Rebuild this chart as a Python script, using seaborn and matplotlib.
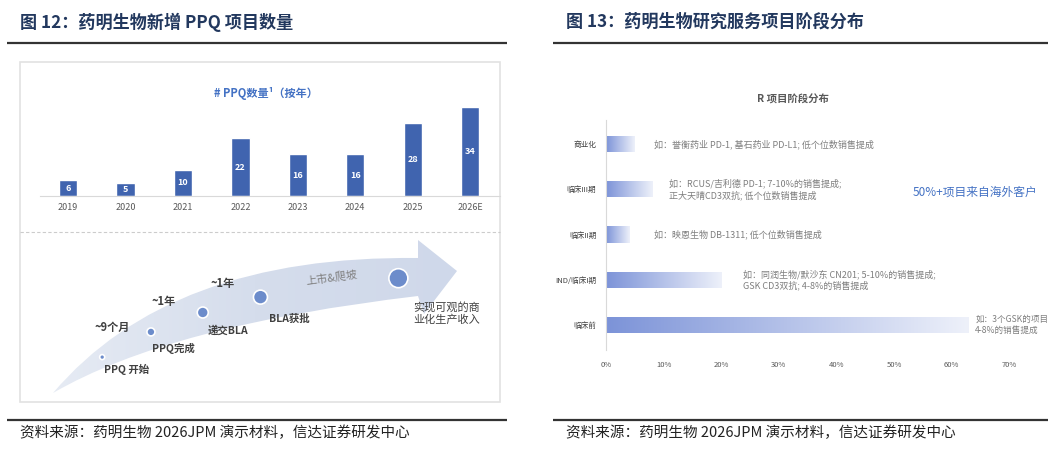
"""
Figuras 12 y 13: PPQ de WuXi Biologics y distribución por fases de proyectos R.
"""
import matplotlib
matplotlib.use("Agg")
import matplotlib.pyplot as plt
import matplotlib.patches as mpatches
from matplotlib.path import Path
from matplotlib.colors import LinearSegmentedColormap
import numpy as np
import seaborn as sns

# ---- datos ----
anios = ["2019", "2020", "2021", "2022", "2023", "2024", "2025", "2026E"]
ppq_nuevos = [6, 5, 10, 22, 16, 16, 28, 34]

hitos = ["PPQ 开始", "PPQ完成", "递交BLA", "BLA获批", "实现可观的商\n业化生产收入"]
duraciones = ["~9个月", "~1年", "~1年"]
etapa_final = "上市&爬坡"

fases = ["商业化", "临床III期", "临床II期", "IND/临床I期", "临床前"]
proporcion = [0.05, 0.08, 0.04, 0.20, 0.63]
ejemplos = [
    "如：誉衡药业 PD-1, 基石药业 PD-L1; 低个位数销售提成",
    "如：RCUS/吉利德 PD-1; 7-10%的销售提成;\n正大天晴CD3双抗; 低个位数销售提成",
    "如：映恩生物 DB-1311; 低个位数销售提成",
    "如：同润生物/默沙东 CN201; 5-10%的销售提成;\nGSK CD3双抗; 4-8%的销售提成",
    "如：3个GSK的项目\n4-8%的销售提成",
]
ticks_pct = [0, 0.1, 0.2, 0.3, 0.4, 0.5, 0.6, 0.7]

titulo_izq = "图 12：药明生物新增 PPQ 项目数量"
titulo_der = "图 13：药明生物研究服务项目阶段分布"
fuente = "资料来源：药明生物 2026JPM 演示材料，信达证券研发中心"

# ---- estilo ----
sns.set_style("white")
plt.rcParams['font.family'] = ['Noto Sans CJK SC', 'DejaVu Sans']

AZUL = "#4064AF"
AZUL_TXT = "#4472C4"
GRIS = "#595959"
NAVY = "#22385E"

W, H = 1055, 455
fig = plt.figure(figsize=(W / 100, H / 100), dpi=100)

# capa de fondo en coordenadas de pixel
base = fig.add_axes([0, 0, 1, 1], zorder=0)
base.set_xlim(0, W)
base.set_ylim(H, 0)
base.axis('off')


def ejes_px(x0, y0, x1, y1, **kw):
    return fig.add_axes([x0 / W, 1 - y1 / H, (x1 - x0) / W, (y1 - y0) / H], **kw)


def degradado(ax, parche, cmap, zorder=2):
    x0, y0 = parche.get_x(), parche.get_y()
    w, h = parche.get_width(), parche.get_height()
    grad = np.linspace(0, 1, 256).reshape(1, -1)
    img = ax.imshow(grad, extent=[x0, x0 + w, y0, y0 + h], aspect='auto',
                    cmap=cmap, zorder=zorder, interpolation='bicubic')
    img.set_clip_path(parche)
    parche.set_facecolor('none')
    parche.set_edgecolor('none')


# titulos y lineas
for x0, x1, txt in [(7, 507, titulo_izq), (553, 1048, titulo_der)]:
    base.text(x0 + 13, 22, txt, fontsize=12.3, fontweight='bold', color=NAVY, va='center')
    base.plot([x0, x1], [43, 43], color="#333333", lw=1.6, solid_capstyle='butt')
    base.plot([x0, x1], [420, 420], color="#333333", lw=1.6, solid_capstyle='butt')
    base.text(x0 + 13, 433, fuente, fontsize=10.5, style='italic', color="#222222", va='center')

# marco del panel izquierdo
base.add_patch(mpatches.Rectangle((20, 62), 480, 340, fill=False, edgecolor="#E2E2E2", lw=1.2))
base.plot([20, 500], [232, 232], color="#CCCCCC", lw=0.8, ls=(0, (3, 2)))

# ---- barras PPQ ----
ax1 = ejes_px(40, 100, 500, 196, zorder=1)
ax1.patch.set_alpha(0)
sns.barplot(x=anios, y=ppq_nuevos, color=AZUL, saturation=1, width=0.32, ax=ax1)
ax1.bar_label(ax1.containers[0], label_type='center', color='white', fontsize=6.5, fontweight='bold')
ax1.set_ylim(0, 36.7)
ax1.set_xlim(-0.49, 7.52)
sns.despine(ax=ax1, left=True)
ax1.spines['bottom'].set_color("#D9D9D9")
ax1.spines['bottom'].set_linewidth(0.8)
ax1.set_yticks([])
ax1.set_xlabel("")
ax1.tick_params(axis='x', length=0, labelsize=6.5, labelcolor=GRIS, pad=5)
base.text(266, 93, "# PPQ数量¹（按年）", fontsize=8, fontweight='bold', color=AZUL_TXT,
          ha='center', va='center')

# ---- flecha de hitos ----
cola = np.array([53, 393])
ctrl_sup, fin_sup = np.array([170, 255]), np.array([418, 258])
ctrl_inf, fin_inf = np.array([170, 325]), np.array([418, 296])
verts = [cola, ctrl_sup, fin_sup, (418, 240), (457, 271), (424, 314), fin_inf, ctrl_inf, cola, cola]
codes = [Path.MOVETO, Path.CURVE3, Path.CURVE3, Path.LINETO, Path.LINETO, Path.LINETO,
         Path.LINETO, Path.CURVE3, Path.CURVE3, Path.CLOSEPOLY]
flecha = mpatches.PathPatch(Path(verts, codes), facecolor='none', edgecolor='none')
base.add_patch(flecha)
cmap_flecha = LinearSegmentedColormap.from_list("flecha", ["#E6EBF4", "#D5DDEC", "#CFD8EA"])
img = base.imshow(np.linspace(0, 1, 256).reshape(1, -1), extent=[53, 457, 395, 238],
                  aspect='auto', cmap=cmap_flecha, zorder=1)
img.set_clip_path(flecha)
base.set_xlim(0, W)
base.set_ylim(H, 0)

centro_ctrl = (ctrl_sup + ctrl_inf) / 2
centro_fin = (fin_sup + fin_inf) / 2


def punto_curva(t):
    return (1 - t) ** 2 * cola + 2 * t * (1 - t) * centro_ctrl + t ** 2 * centro_fin


t_hitos = [0.19, 0.35, 0.5, 0.65, 0.96]
radios = [2.5, 4, 5.5, 7, 9.5]
desplaz = [(2, 12), (1, 16), (5, 18), (9, 22), (15, 35)]
for i, hito in enumerate(hitos):
    cx, cy = punto_curva(t_hitos[i])
    base.add_patch(mpatches.Circle((cx, cy), radios[i], facecolor="#6C8CCB",
                                   edgecolor='white', lw=1.2, zorder=3))
    dx, dy = desplaz[i]
    es_final = i == len(hitos) - 1
    base.text(cx + dx, cy + dy, hito, fontsize=8 if es_final else 7.5,
              fontweight='normal' if es_final else 'bold', color="#404040",
              va='center', ha='left', linespacing=1.15, zorder=4)

pos_dur = [(112, 327), (164, 301), (223, 283)]
for (x, y), d in zip(pos_dur, duraciones):
    base.text(x, y, d, fontsize=8, fontweight='bold', style='italic', color="#404040",
              ha='center', va='center', zorder=4)
base.text(332, 278, etapa_final, fontsize=8, style='italic', color="#7F7F7F",
          ha='center', va='center', rotation=8, zorder=4)

# ---- barras por fase ----
ax2 = ejes_px(606, 120, 1054, 350, zorder=1)
ax2.patch.set_alpha(0)
sns.barplot(x=proporcion, y=fases, orient='h', color="#7F96DA", saturation=1, width=0.36, ax=ax2)
cmap_barra = LinearSegmentedColormap.from_list("barra", ["#7C93D8", "#EEF1FA"])
for barra in ax2.patches:
    degradado(ax2, barra, cmap_barra)
ax2.set_xlim(0, 448 / 576)
ax2.set_ylim(4.55, -0.53)
sns.despine(ax=ax2, bottom=True)
ax2.spines['left'].set_color("#D9D9D9")
ax2.spines['left'].set_linewidth(0.8)
ax2.set_xticks(ticks_pct)
ax2.set_xticklabels([f"{int(round(v * 100))}%" for v in ticks_pct])
ax2.set_xlabel("")
ax2.set_ylabel("")
ax2.tick_params(axis='x', length=0, labelsize=5.5, labelcolor=GRIS, pad=8)
ax2.tick_params(axis='y', length=0, labelsize=5.5, labelcolor="#404040", pad=7)

x_notas = [0.083, 0.109, 0.083, 0.238, 0.641]
tam_notas = [6.5, 6.5, 6.5, 6.5, 6.2]
for i, nota in enumerate(ejemplos):
    ax2.text(x_notas[i], i, nota, fontsize=tam_notas[i], color="#7F7F7F", va='center', ha='left',
             linespacing=1.25)

base.text(793, 100, "R 项目阶段分布", fontsize=7.5, fontweight='bold', color=GRIS,
          ha='center', va='center')
base.text(975, 192, "50%+项目来自海外客户", fontsize=8.5, color=AZUL_TXT,
          ha='center', va='center')

fig.savefig("out.png", dpi=100, facecolor='white')
